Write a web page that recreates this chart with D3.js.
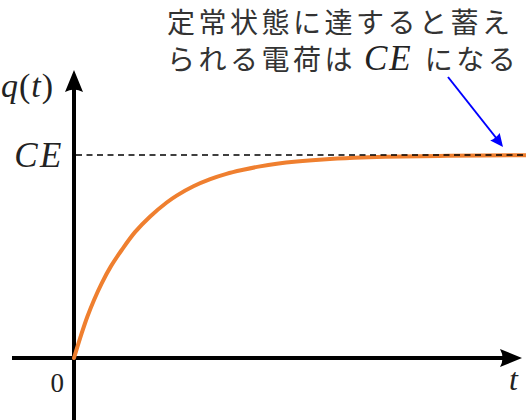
<!DOCTYPE html>
<html>
<head>
<meta charset="utf-8">
<script src="https://cdn.jsdelivr.net/npm/d3@7"></script>
<style>
  body { margin: 0; background: #fff; }
  svg { display: block; }
</style>
</head>
<body>
<div id="chart"></div>
<script>
var width = 526;
var height = 420;

// values (t in units of RC, q in units of CE)
var tVals = [0, 0.124, 0.214, 0.322, 0.445, 0.59, 0.767, 0.98, 1.22, 1.49, 1.65, 1.92, 2.19, 2.45, 2.72, 2.99, 3.26, 3.58, 4.0, 4.5, 5.0, 6.0, 7.3];
var qVals = [0, 0.122, 0.203, 0.286, 0.368, 0.45, 0.532, 0.62, 0.696, 0.766, 0.8, 0.846, 0.881, 0.907, 0.927, 0.944, 0.957, 0.968, 0.978, 0.986, 0.991, 0.996, 0.999];
var steadyLevel = [1];
var yTickLabels = ["CE"];
var xTickLabels = ["0"];
var noteLines = ["定常状態に達すると蓄え", "られる電荷は"];
var noteTail = ["CE", "になる"];

var points = tVals.map(function(t, i) { return { t: t, q: qVals[i] }; });

var x = d3.scaleLinear().domain([0, 7.2]).range([74, 522]);
var y = d3.scaleLinear().domain([0, 1]).range([358, 155]);

var svg = d3.select("#chart").append("svg")
    .attr("width", width)
    .attr("height", height);

var mathFont = "'Liberation Serif', 'DejaVu Serif', serif";
var jpFont = "'Noto Sans CJK JP', sans-serif";

// arrow head, pointing up, tip at 0,0
var headUp = "M0,0 L9,22 Q0,17 -9,22 Z";

// axes
svg.append("line") // y - Achse
    .attr("x1", x(0)).attr("x2", x(0))
    .attr("y1", height + 2).attr("y2", 78)
    .attr("stroke", "#000").attr("stroke-width", 4);
svg.append("path")
    .attr("d", headUp)
    .attr("transform", "translate(" + x(0) + ",70)")
    .attr("fill", "#000");

svg.append("line") // x - Achse
    .attr("x1", 12).attr("x2", 514)
    .attr("y1", y(0)).attr("y2", y(0))
    .attr("stroke", "#000").attr("stroke-width", 4);
svg.append("path")
    .attr("d", headUp)
    .attr("transform", "translate(522," + y(0) + ") rotate(90)")
    .attr("fill", "#000");

// charge curve
var line = d3.line()
    .x(function(d) { return x(d.t); })
    .y(function(d) { return y(d.q); })
    .curve(d3.curveCatmullRom.alpha(0.5));

svg.append("path")
    .datum(points)
    .attr("d", line)
    .attr("fill", "none")
    .attr("stroke", "#ef7f2f")
    .attr("stroke-width", 4)
    .attr("stroke-linecap", "round");

// steady state level
svg.selectAll(".level")
    .data(steadyLevel)
    .enter().append("line")
    .attr("class", "level")
    .attr("x1", x(0) + 2).attr("x2", width)
    .attr("y1", function(d) { return y(d); })
    .attr("y2", function(d) { return y(d); })
    .attr("stroke", "#000")
    .attr("stroke-width", 1.6)
    .attr("stroke-dasharray", "6,4.5");

// labels
svg.selectAll(".ytick")
    .data(yTickLabels)
    .enter().append("text")
    .attr("class", "ytick")
    .attr("x", 64)
    .attr("y", y(steadyLevel[0]) + 12)
    .attr("text-anchor", "end")
    .style("font-family", mathFont)
    .style("font-style", "italic")
    .style("font-size", "35px")
    .style("letter-spacing", "2.5px")
    .attr("fill", "#222")
    .text(function(d) { return d; });

svg.selectAll(".xtick")
    .data(xTickLabels)
    .enter().append("text")
    .attr("class", "xtick")
    .attr("x", 64)
    .attr("y", 392)
    .attr("text-anchor", "end")
    .style("font-family", mathFont)
    .style("font-size", "27px")
    .attr("fill", "#222")
    .text(function(d) { return d; });

var yLabel = svg.append("text")
    .attr("x", 1)
    .attr("y", 97)
    .style("font-family", mathFont)
    .style("font-size", "34px")
    .style("letter-spacing", "1px")
    .attr("fill", "#222");
yLabel.append("tspan").style("font-style", "italic").text("q");
yLabel.append("tspan").text("(");
yLabel.append("tspan").style("font-style", "italic").text("t");
yLabel.append("tspan").text(")");

svg.append("text")
    .attr("x", 518)
    .attr("y", 390)
    .attr("text-anchor", "end")
    .style("font-family", mathFont)
    .style("font-style", "italic")
    .style("font-size", "32px")
    .attr("fill", "#222")
    .text("t");

// annotation
svg.append("text")
    .attr("x", 167)
    .attr("y", 32.5)
    .style("font-family", jpFont)
    .style("font-size", "28px")
    .style("letter-spacing", "3.5px")
    .attr("fill", "#333")
    .text(noteLines[0]);

var note2 = svg.append("text")
    .attr("x", 167)
    .attr("y", 70)
    .style("font-family", jpFont)
    .style("font-size", "28px")
    .style("letter-spacing", "3.5px")
    .attr("fill", "#333");
note2.append("tspan").text(noteLines[1]);
note2.append("tspan")
    .style("font-family", mathFont)
    .style("font-style", "italic")
    .style("font-size", "35px")
    .style("letter-spacing", "2px")
    .attr("fill", "#222")
    .attr("dx", 8)
    .text(noteTail[0]);
note2.append("tspan").attr("dx", 12).text(noteTail[1]);

// blue pointer
svg.append("line")
    .attr("x1", 448).attr("y1", 77)
    .attr("x2", 497).attr("y2", 139)
    .attr("stroke", "#0000ff")
    .attr("stroke-width", 2);
svg.append("path")
    .attr("d", "M0,0 L6,13 Q0,11 -6,13 Z")
    .attr("transform", "translate(503,147) rotate(" + (Math.atan2(147 - 77, 503 - 448) * 180 / Math.PI - 90 + 180) + ")")
    .attr("fill", "#0000ff");
</script>
</body>
</html>
